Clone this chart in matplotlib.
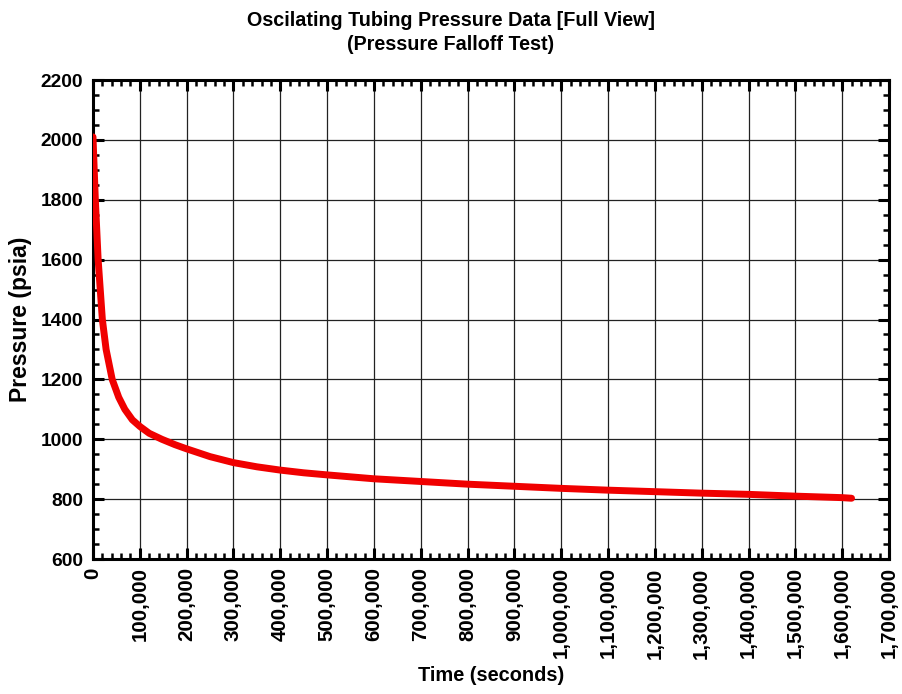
import matplotlib
matplotlib.use("Agg")
import matplotlib.pyplot as plt
from matplotlib.ticker import MultipleLocator, FuncFormatter

plt.rcParams['font.family'] = ['Liberation Sans', 'DejaVu Sans']
plt.rcParams['font.weight'] = 'bold'

# Elapsed time since shut-in (s) and measured tubing pressure (psia)
time_s = [0, 5000, 11000, 20000, 28000, 41000, 55000, 68000, 84000, 100000,
          120000, 147000, 175000, 200000, 250000, 300000, 350000, 400000,
          450000, 500000, 600000, 700000, 800000, 900000, 1000000, 1100000,
          1200000, 1300000, 1400000, 1500000, 1600000, 1620000]
pressure_psia = [2010, 1800, 1600, 1400, 1300, 1200, 1140, 1100, 1065, 1043,
                 1020, 1000, 982, 968, 942, 922, 908, 897,
                 888, 881, 868, 859, 850, 843, 836, 830,
                 825, 820, 816, 810, 805, 803]

title = "Oscilating Tubing Pressure Data [Full View]\n(Pressure Falloff Test)"

fig = plt.figure(figsize=(9.02, 6.94), dpi=100)
ax = fig.add_axes([0.1031, 0.1945, 0.8825, 0.6902])

ax.plot(time_s, pressure_psia, color='#f00000', lw=5, solid_capstyle='round',
        solid_joinstyle='round', zorder=3)

ax.set_xlim(0, 1700000)
ax.set_ylim(600, 2200)
ax.xaxis.set_major_locator(MultipleLocator(100000))
ax.xaxis.set_minor_locator(MultipleLocator(20000))
ax.yaxis.set_major_locator(MultipleLocator(200))
ax.yaxis.set_minor_locator(MultipleLocator(50))
ax.xaxis.set_major_formatter(FuncFormatter(lambda v, p: f"{int(round(v)):,}"))

ax.grid(True, which='major', color='#222222', lw=0.9, zorder=1)
for s in ax.spines.values():
    s.set_linewidth(2.2)

ax.tick_params(which='both', direction='in', top=True, right=True)
ax.tick_params(which='major', length=8, width=2.2, pad=6)
ax.tick_params(which='minor', length=4.5, width=1.8)
ax.tick_params(axis='y', which='major', pad=7)
for lab in ax.get_xticklabels():
    lab.set_rotation(90)
    lab.set_fontweight('bold')
    lab.set_fontsize(14.8)
for lab in ax.get_yticklabels():
    lab.set_fontweight('bold')
    lab.set_fontsize(13.8)

ax.set_xlabel("Time (seconds)", fontsize=14.4, fontweight='bold', labelpad=5)
ax.set_ylabel("Pressure (psia)", fontsize=16.5, fontweight='bold', labelpad=6)

fig.text(0.5, 0.984, title, ha='center', va='top', fontsize=14.2,
         fontweight='bold', linespacing=1.3)

fig.savefig("out.png", dpi=100)
